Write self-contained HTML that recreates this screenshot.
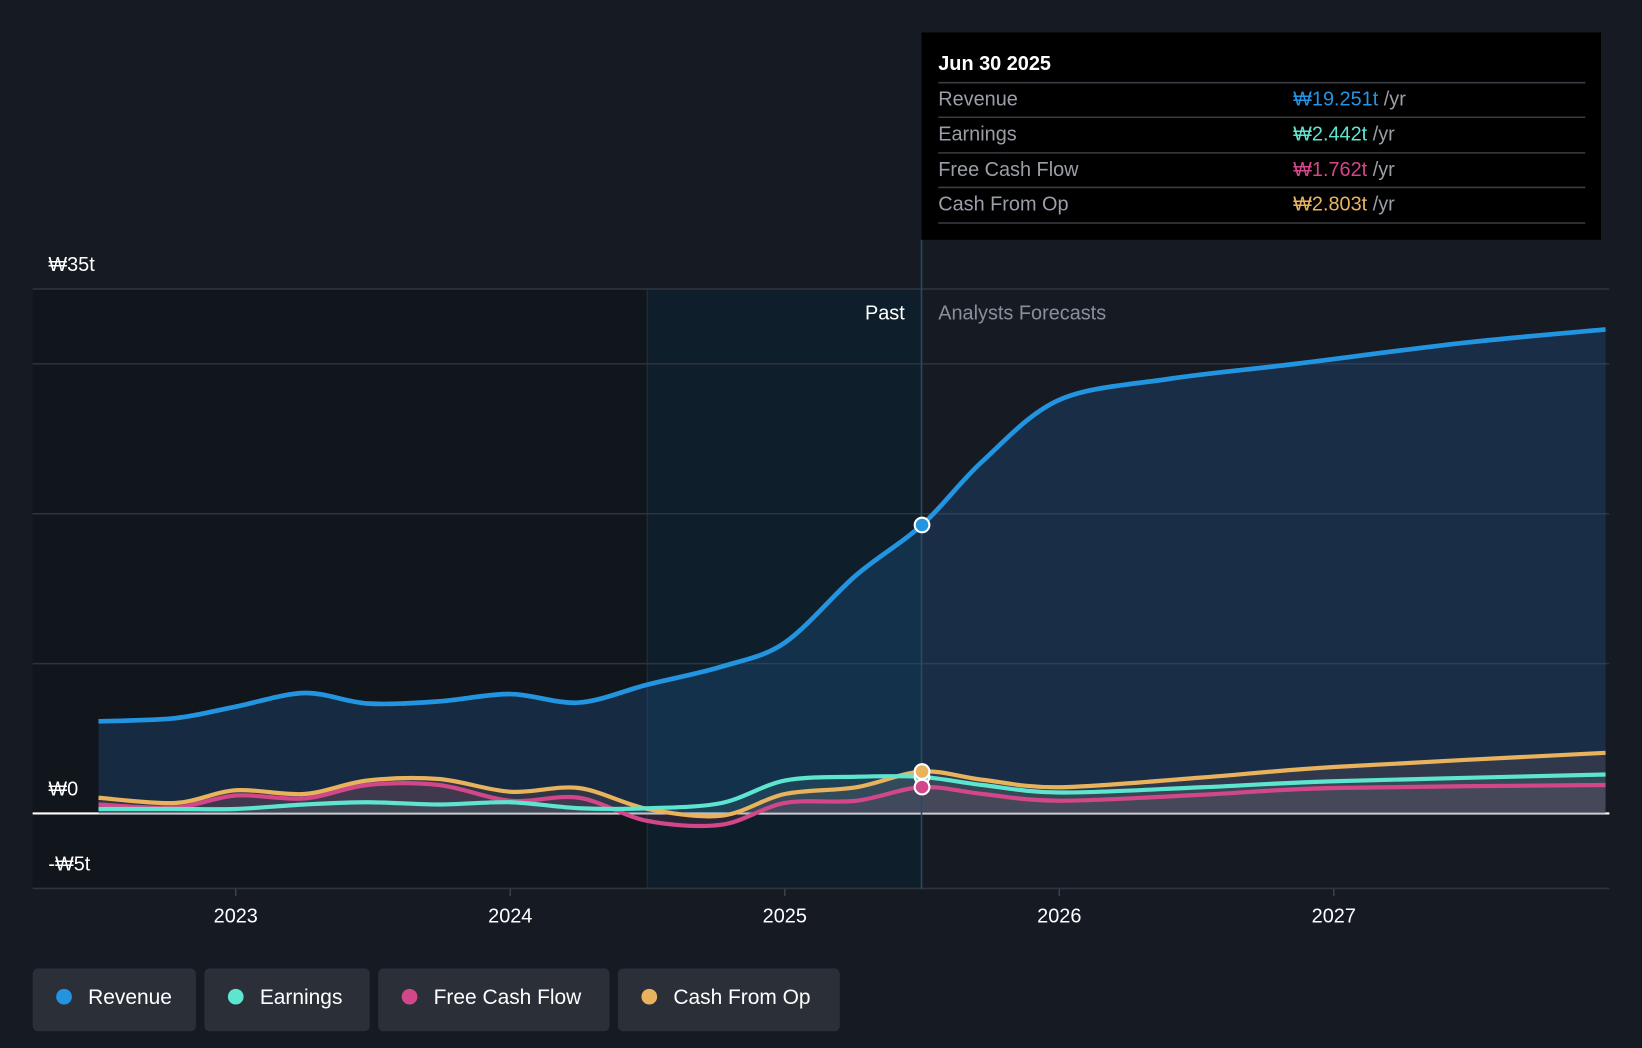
<!DOCTYPE html>
<html><head><meta charset="utf-8">
<style>
html,body{margin:0;padding:0;background:#151a23;width:1642px;height:1048px;overflow:hidden}
svg{display:block;font-family:"Liberation Sans","DejaVu Sans",sans-serif}
</style></head>
<body>
<svg id="chart" width="1642" height="1048" viewBox="0 0 1568 1001" xmlns="http://www.w3.org/2000/svg">
<rect x="0" y="0" width="1568" height="1001" fill="#151a23"/>
<rect x="31" y="276" width="587" height="573" fill="#11151c"/>
<rect x="618" y="276" width="262" height="573" fill="#0f1e2b"/>
<line x1="618" y1="276" x2="618" y2="849" stroke="#1e3040" stroke-width="1"/>
<g id="grid"></g>
<g id="areas"></g>
<g id="lines"></g>
<line x1="880" y1="229" x2="880" y2="849" stroke="#2a4a63" stroke-width="1.5"/>
<text x="864" y="305" fill="#fff" font-size="19" text-anchor="end">Past</text>
<text x="896" y="305" fill="#8a8f98" font-size="19">Analysts Forecasts</text>
<g id="dots"></g>
<g id="xaxis"></g>
<g>
<rect x="880" y="31" width="649" height="198" fill="#000"/>
<text x="896" y="67" fill="#fff" font-size="19" font-weight="bold">Jun 30 2025</text>
<line x1="896" y1="79" x2="1514" y2="79" stroke="#3a3d44" stroke-width="1.5"/>
<text x="896" y="101" fill="#9a9ea6" font-size="19">Revenue</text>
<text x="1235" y="101" font-size="19"><tspan fill="#2394df">₩19.251t</tspan><tspan fill="#9a9ea6"> /yr</tspan></text>
<line x1="896" y1="112" x2="1514" y2="112" stroke="#3a3d44" stroke-width="1.5"/>
<text x="896" y="134" fill="#9a9ea6" font-size="19">Earnings</text>
<text x="1235" y="134" font-size="19"><tspan fill="#5ee5d0">₩2.442t</tspan><tspan fill="#9a9ea6"> /yr</tspan></text>
<line x1="896" y1="146" x2="1514" y2="146" stroke="#3a3d44" stroke-width="1.5"/>
<text x="896" y="168" fill="#9a9ea6" font-size="19">Free Cash Flow</text>
<text x="1235" y="168" font-size="19"><tspan fill="#d2478a">₩1.762t</tspan><tspan fill="#9a9ea6"> /yr</tspan></text>
<line x1="896" y1="179" x2="1514" y2="179" stroke="#3a3d44" stroke-width="1.5"/>
<text x="896" y="201" fill="#9a9ea6" font-size="19">Cash From Op</text>
<text x="1235" y="201" font-size="19"><tspan fill="#e9b25c">₩2.803t</tspan><tspan fill="#9a9ea6"> /yr</tspan></text>
<line x1="896" y1="213" x2="1514" y2="213" stroke="#3a3d44" stroke-width="1.5"/>
</g>
<g id="legend"></g>
</svg>
<script>
const years = [2022.5,2022.78,2023,2023.25,2023.48,2023.74,2024,2024.25,2024.5,2024.77,2025,2025.26,2025.5,2025.72,2026,2026.4,2026.86,2027.47,2027.99];
const revenue = [6.15,6.36,7.13,8.04,7.34,7.48,7.97,7.4,8.6,9.8,11.4,15.9,19.25,23.5,27.6,29.0,30.0,31.4,32.3];
const fxYears = [2022.5,2022.78,2023,2023.25,2023.48,2023.74,2024,2024.25,2024.5,2024.77,2025,2025.26,2025.5,2025.72,2026,2026.52,2027,2027.99];
const earnings = [0.3,0.3,0.3,0.6,0.75,0.6,0.75,0.35,0.35,0.7,2.2,2.45,2.44,1.9,1.4,1.75,2.15,2.6];
const fcf = [0.6,0.4,1.2,1.0,1.9,1.9,0.85,1.05,-0.5,-0.75,0.7,0.85,1.76,1.3,0.85,1.25,1.7,1.9];
const cfo = [1.05,0.7,1.55,1.3,2.2,2.3,1.45,1.7,0.3,-0.15,1.3,1.75,2.8,2.25,1.75,2.4,3.1,4.05];
const yTicks = [-5,0,10,20,30,35];
const yLabels = {"35":"₩35t","0":"₩0","-5":"-₩5t"};
const xTicks = [2023,2024,2025,2026,2027];
const X = v => 225 + (v-2023)*262.2;
const Y = v => 777 - v*14.314;
const NS="http://www.w3.org/2000/svg";
function mk(tag,attrs,parent,txt){const e=document.createElementNS(NS,tag);for(const k in attrs)e.setAttribute(k,attrs[k]);if(txt!==undefined)e.textContent=txt;parent.appendChild(e);return e;}
function pathD(xs,ys){const p=xs.map((x,i)=>[X(x),Y(ys[i])]);let d=`M${p[0][0]},${p[0][1]}`;for(let i=0;i<p.length-1;i++){const p0=p[i-1]||p[i],p1=p[i],p2=p[i+1],p3=p[i+2]||p2;const t=0.16;d+=` C${p1[0]+(p2[0]-p0[0])*t},${p1[1]+(p2[1]-p0[1])*t} ${p2[0]-(p3[0]-p1[0])*t},${p2[1]-(p3[1]-p1[1])*t} ${p2[0]},${p2[1]}`;}return d;}
const grid=document.getElementById('grid');
yTicks.forEach(v=>{
  const l=mk('line',{x1:31,x2:1537,y1:Y(v),y2:Y(v),stroke:v===0?'#ffffff':'#2e333c','stroke-width':v===0?2:1.5},grid);
  
  
  if(yLabels[v]!==undefined){const t=mk('text',{x:46,y:Y(v)-17,fill:'#fff','font-size':19},grid,yLabels[v]);
    
    }
});
const xa=document.getElementById('xaxis');
xTicks.forEach(v=>{const t=mk('text',{x:X(v),y:881,fill:'#fff','font-size':19,'text-anchor':'middle'},xa,String(v));
  
  
  mk('line',{x1:X(v),x2:X(v),y1:849,y2:856,stroke:'#3a3f48','stroke-width':1.5},xa);});
const areas=document.getElementById('areas'),lines=document.getElementById('lines');
const series=[
 {name:'revenue',xs:years,ys:revenue,c:'#2394df',fill:'rgba(35,100,160,0.28)'},
 {name:'cash-from-op',xs:fxYears,ys:cfo,c:'#e9b25c',fill:'rgba(120,90,90,0.25)'},
 {name:'free-cash-flow',xs:fxYears,ys:fcf,c:'#d2478a',fill:'rgba(120,60,90,0.25)'},
 {name:'earnings',xs:fxYears,ys:earnings,c:'#5ee5d0',fill:'rgba(80,160,150,0.15)'}];
series.forEach(s=>{
  const d=pathD(s.xs,s.ys);
  const a=mk('path',{d:d+` L${X(s.xs[s.xs.length-1])},${Y(0)} L${X(s.xs[0])},${Y(0)} Z`,fill:s.fill},areas);
  
  
  const l=mk('path',{d:d,fill:'none',stroke:s.c,'stroke-width':s.name==='revenue'?4.5:4,'stroke-linejoin':'round'},lines);
  
  
});
const dots=document.getElementById('dots');
[[revenue,years,'#2394df'],[earnings,fxYears,'#5ee5d0'],[cfo,fxYears,'#e9b25c'],[fcf,fxYears,'#d2478a']].forEach(([ys,xs,c])=>{
  const i=xs.indexOf(2025.5);
  const d=mk('circle',{cx:X(2025.5),cy:Y(ys[i]),r:7,fill:c,stroke:'#fff','stroke-width':2},dots);
  
  
});
const leg=document.getElementById('legend');
[['Revenue','#2394df',31,156],['Earnings','#5ee5d0',195,158],['Free Cash Flow','#d2478a',361,221],['Cash From Op','#e9b25c',590,212]].forEach(([n,c,x,w])=>{
  const g=mk('g',{},leg);
  
  
  mk('rect',{x:x,y:925,width:w,height:60,rx:5,fill:'#2a2f38'},g);
  mk('circle',{cx:x+30,cy:952,r:7.5,fill:c},g);
  mk('text',{x:x+53,y:959,fill:'#fff','font-size':20},g,n);
});
</script>
</body></html>
